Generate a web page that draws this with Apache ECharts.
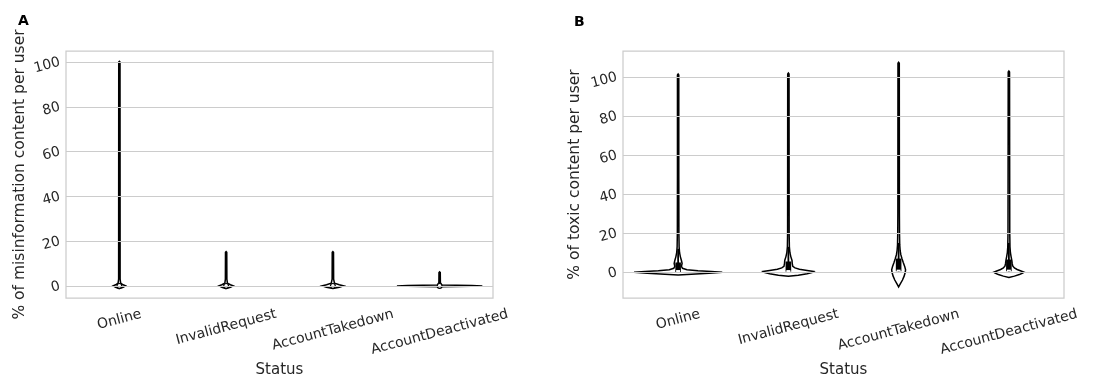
<!DOCTYPE html>
<html><head><meta charset="utf-8">
<script src="https://cdn.jsdelivr.net/npm/echarts@6/dist/echarts.min.js"></script>
<style>html,body{margin:0;padding:0;background:#fff}#c{width:1102px;height:377px}</style>
</head><body><div id="c"></div>
<script>
const categories = ['Online', 'InvalidRequest', 'AccountTakedown', 'AccountDeactivated'];
const yTicks = [0, 20, 40, 60, 80, 100];

// Violin profiles: [value, half-width as fraction of category band]
// Panel A: % of misinformation content per user
const misOnline = [[-1.2, 0], [-0.6, 0.035], [0, 0.058], [0.5, 0.035], [1.2, 0.012], [3, 0.007], [100, 0.006], [100.3, 0]];
const misInvalid = [[-1.2, 0], [-0.6, 0.04], [0, 0.066], [0.5, 0.04], [1.2, 0.012], [3, 0.007], [15, 0.006], [15.3, 0]];
const misTakedown = [[-1.2, 0], [-0.6, 0.06], [0, 0.1], [0.5, 0.06], [1.2, 0.015], [3, 0.007], [15, 0.006], [15.3, 0]];
const misDeactivated = [[-0.35, 0], [-0.15, 0.3], [0, 0.4], [0.15, 0.3], [0.35, 0.02], [1.5, 0.007], [6, 0.006], [6.3, 0]];
const misQ1 = [0, 0, 0, 0];
const misMedian = [0, 0, 0, 0];
const misQ3 = [0, 0, 0, 0];
const misWhiskerLo = [0, 0, 0, 0];
const misWhiskerHi = [0, 0, 0, 0];

// Panel B: % of toxic content per user
const toxOnline = [[-1.4, 0], [-1.0, 0.12], [-0.5, 0.28], [0, 0.4], [0.4, 0.3], [0.8, 0.18], [1.3, 0.08], [2, 0.04], [3, 0.03], [4.5, 0.036], [6, 0.03], [8, 0.02], [10, 0.013], [13, 0.009], [20, 0.007], [50, 0.006], [101, 0.006], [101.5, 0]];
const toxInvalid = [[-2, 0], [-1.5, 0.09], [-0.8, 0.17], [0, 0.22], [0.4, 0.23], [0.9, 0.17], [1.5, 0.1], [2.2, 0.06], [3, 0.04], [4.5, 0.035], [6, 0.033], [8, 0.022], [10, 0.014], [13, 0.009], [20, 0.007], [101.5, 0.006], [102, 0]];
const toxTakedown = [[-7.5, 0], [-6, 0.015], [-4, 0.035], [-2, 0.05], [0, 0.06], [1.2, 0.063], [3, 0.055], [5, 0.042], [7, 0.03], [9, 0.02], [11, 0.014], [14, 0.01], [20, 0.008], [30, 0.007], [107, 0.006], [107.5, 0]];
const toxDeactivated = [[-2.7, 0], [-2, 0.05], [-1.2, 0.095], [-0.4, 0.125], [0, 0.136], [0.6, 0.11], [1.4, 0.075], [2.2, 0.05], [3.2, 0.035], [4.5, 0.03], [6, 0.027], [8, 0.02], [10, 0.014], [13, 0.01], [20, 0.008], [102.5, 0.006], [103, 0]];
const toxQ1 = [0, 0.3, 0.5, 0.5];
const toxMedian = [0.6, 0.6, 0.8, 0.8];
const toxQ3 = [5, 5.5, 7, 6.5];
const toxWhiskerLo = [0, 0, 0, 0];
const toxWhiskerHi = [12, 13, 15, 15];

const misProfiles = [misOnline, misInvalid, misTakedown, misDeactivated];
const toxProfiles = [toxOnline, toxInvalid, toxTakedown, toxDeactivated];

const TEXT = '#262626';
const FONT = 'DejaVu Sans';
const ROT = 15;
const XFS = 14;
const XFONT = XFS + 'px "' + FONT + '"';
const ctx = document.createElement('canvas').getContext('2d');
ctx.font = XFONT;
const s15 = Math.sin(ROT * Math.PI / 180), c15 = Math.cos(ROT * Math.PI / 180);

// Category tick labels, centred under each tick like matplotlib's rotated labels
function labelRenderer(yMin) {
  return function (params, api) {
    const i = api.value(0);
    const text = categories[i];
    const w = ctx.measureText(text).width;
    const h = XFS * 1.17;
    const H = w * s15 + h * c15;
    const x = api.coord([i, 0])[0];
    const yb = api.coord([i, yMin])[1];
    return { type: 'text', x: x, y: yb + 8 + H / 2, rotation: ROT * Math.PI / 180,
      style: { text: text, align: 'center', verticalAlign: 'middle', font: XFONT, fill: TEXT } };
  };
}

function violinRenderer(profiles, q1, med, q3, wlo, whi) {
  return function (params, api) {
    const i = api.value(0);
    const prof = profiles[i];
    const band = api.size([1, 0])[0];
    const cx = api.coord([i, 0])[0];
    const right = [], left = [];
    prof.forEach(p => {
      const y = api.coord([i, p[0]])[1];
      right.push([cx + p[1] * band, y]);
      left.push([cx - p[1] * band, y]);
    });
    const pts = right.concat(left.reverse());
    const children = [{ type: 'polygon', shape: { points: pts }, style: { fill: '#fff', stroke: '#000', lineWidth: 1.5 } }];
    if (whi[i] > wlo[i]) {
      children.push({ type: 'line', shape: { x1: cx, y1: api.coord([i, wlo[i]])[1], x2: cx, y2: api.coord([i, whi[i]])[1] }, style: { stroke: '#000', lineWidth: 1.8 } });
    }
    if (q3[i] > q1[i]) {
      const yt = api.coord([i, q3[i]])[1], yb = api.coord([i, q1[i]])[1];
      children.push({ type: 'rect', shape: { x: cx - 2.8, y: yt, width: 5.6, height: yb - yt }, style: { fill: '#000' } });
    }
    const ym = api.coord([i, med[i]])[1];
    if (q3[i] > q1[i]) {
      children.push({ type: 'rect', shape: { x: cx - 2, y: ym - 1, width: 4, height: 2 }, style: { fill: '#fff' } });
    } else {
      children.push({ type: 'circle', shape: { cx: cx, cy: ym, r: 2.4 }, style: { fill: '#fff', stroke: '#000', lineWidth: 1.2 } });
    }
    return { type: 'group', children: children };
  };
}

function yAxisCfg(idx, name, min, max, gap) {
  return {
    type: 'value', gridIndex: idx, min: min, max: max,
    name: name, nameLocation: 'middle', nameGap: gap,
    nameTextStyle: { fontFamily: FONT, fontSize: 15.5, color: TEXT },
    axisLine: { show: false }, axisTick: { show: false },
    splitLine: { show: false },
    axisLabel: { customValues: yTicks, rotate: ROT, margin: 6, fontFamily: FONT, fontSize: 14, color: TEXT }
  };
}
function xAxisCfg(idx) {
  return {
    type: 'category', gridIndex: idx, data: categories, boundaryGap: true,
    name: 'Status', nameLocation: 'middle', nameGap: 65,
    nameTextStyle: { fontFamily: FONT, fontSize: 15, color: TEXT, verticalAlign: 'top' },
    axisLine: { show: false }, axisTick: { show: false }, splitLine: { show: false },
    axisLabel: { show: false }
  };
}
function gridLines(idx) {
  return {
    type: 'line', xAxisIndex: idx, yAxisIndex: idx, data: [], z: 1, silent: true,
    markLine: { silent: true, symbol: 'none', label: { show: false }, lineStyle: { color: '#cccccc', width: 1, type: 'solid' }, animation: false,
      data: yTicks.map(v => ({ yAxis: v })) }
  };
}

const yMinA = -5.4, yMaxA = 104.9, yMinB = -13.2, yMaxB = 113.3;
const chart = echarts.init(document.getElementById('c'), null, { renderer: 'canvas' });
chart.setOption({
  animation: false,
  backgroundColor: '#fff',
  title: [
    { text: 'A', left: 13, top: 9, textStyle: { fontFamily: FONT, fontSize: 14, fontWeight: 'bold', color: '#000' } },
    { text: 'B', left: 569, top: 10, textStyle: { fontFamily: FONT, fontSize: 14, fontWeight: 'bold', color: '#000' } }
  ],
  grid: [
    { left: 66, top: 51, width: 427, height: 247, outerBoundsMode: 'none', containLabel: false, show: true, borderColor: '#cccccc', borderWidth: 1.25, backgroundColor: 'transparent' },
    { left: 623, top: 51, width: 441, height: 247, outerBoundsMode: 'none', containLabel: false, show: true, borderColor: '#cccccc', borderWidth: 1.25, backgroundColor: 'transparent' }
  ],
  xAxis: [xAxisCfg(0), xAxisCfg(1)],
  yAxis: [
    yAxisCfg(0, '% of misinformation content per user', yMinA, yMaxA, 38),
    yAxisCfg(1, '% of toxic content per user', yMinB, yMaxB, 40)
  ],
  series: [
    gridLines(0), gridLines(1),
    { type: 'custom', xAxisIndex: 0, yAxisIndex: 0, z: 3, silent: true,
      renderItem: violinRenderer(misProfiles, misQ1, misMedian, misQ3, misWhiskerLo, misWhiskerHi),
      encode: { x: 0, y: 1 }, data: categories.map((c, i) => [i, 0]) },
    { type: 'custom', xAxisIndex: 1, yAxisIndex: 1, z: 3, silent: true,
      renderItem: violinRenderer(toxProfiles, toxQ1, toxMedian, toxQ3, toxWhiskerLo, toxWhiskerHi),
      encode: { x: 0, y: 1 }, data: categories.map((c, i) => [i, 0]) },
    { type: 'custom', xAxisIndex: 0, yAxisIndex: 0, z: 4, silent: true, clip: false,
      renderItem: labelRenderer(yMinA), encode: { x: 0, y: 1 }, data: categories.map((c, i) => [i, 0]) },
    { type: 'custom', xAxisIndex: 1, yAxisIndex: 1, z: 4, silent: true, clip: false,
      renderItem: labelRenderer(yMinB), encode: { x: 0, y: 1 }, data: categories.map((c, i) => [i, 0]) }
  ]
});
</script></body></html>
